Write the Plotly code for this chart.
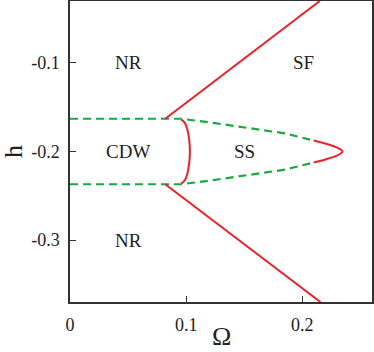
import plotly.graph_objects as go

# phase boundaries, Omega vs h
cdw_upper_omega = [0.0, 0.0958, 0.125, 0.155, 0.185, 0.2098]
cdw_upper_h = [-0.163, -0.163, -0.168, -0.1735, -0.1795, -0.1876]
cdw_lower_omega = [0.0, 0.0958, 0.125, 0.155, 0.185, 0.2098]
cdw_lower_h = [-0.237, -0.237, -0.232, -0.2265, -0.2205, -0.2124]

sf_upper_omega = [0.082, 0.215]
sf_upper_h = [-0.163, -0.03]
sf_lower_omega = [0.082, 0.2156]
sf_lower_h = [-0.237, -0.37]

cdw_ss_omega = [0.0958, 0.0986, 0.1009, 0.1027, 0.1032, 0.1027, 0.1009, 0.0986, 0.0958]
cdw_ss_h = [-0.1639, -0.167, -0.1744, -0.1876, -0.2, -0.2124, -0.2256, -0.233, -0.2361]

ss_tip_omega = [0.2098, 0.2205, 0.2291, 0.2334, 0.2347, 0.2334, 0.2291, 0.2205, 0.2098]
ss_tip_h = [-0.1876, -0.1913, -0.1951, -0.1981, -0.2, -0.2019, -0.2049, -0.2087, -0.2124]

labels = ["NR", "SF", "CDW", "SS", "NR"]
label_omega = [0.0505, 0.2007, 0.050, 0.150, 0.0505]
label_h = [-0.1, -0.1, -0.2, -0.2, -0.3]

RED = "rgb(236,32,40)"
GREEN = "rgb(22,170,64)"
FONT = "Liberation Serif"
INK = "#222"

fig = go.Figure()

for x, y in [(cdw_upper_omega, cdw_upper_h), (cdw_lower_omega, cdw_lower_h)]:
    fig.add_scatter(x=x, y=y, mode="lines",
                    line=dict(color=GREEN, width=2.2, dash="8px,5px"))

for x, y in [(sf_upper_omega, sf_upper_h), (sf_lower_omega, sf_lower_h),
             (cdw_ss_omega, cdw_ss_h), (ss_tip_omega, ss_tip_h)]:
    fig.add_scatter(x=x, y=y, mode="lines", line=dict(color=RED, width=2, shape="spline"))

for t, x, y in zip(labels, label_omega, label_h):
    fig.add_annotation(x=x, y=y, text=t, showarrow=False,
                       font=dict(family=FONT, size=19, color=INK))

# axis titles placed by hand so they sit where the reference has them
fig.add_annotation(x=0.502, y=-0.115, xref="paper", yref="paper", text="Ω",
                   showarrow=False, yanchor="middle",
                   font=dict(family=FONT, size=26, color=INK))
fig.add_annotation(x=-0.19, y=0.5, xref="paper", yref="paper", text="h",
                   showarrow=False, textangle=-90, xanchor="center", height=22,
                   font=dict(family=FONT, size=26, color=INK))

axis = dict(showline=True, linecolor="#333", linewidth=1.5, mirror=True,
            ticks="inside", ticklen=6, tickcolor="#333", showgrid=False,
            zeroline=False, automargin=False,
            tickfont=dict(family=FONT, size=18, color=INK))

fig.update_layout(
    width=374, height=352,
    margin=dict(l=70, r=2, t=1, b=50),
    plot_bgcolor="white", paper_bgcolor="white",
    showlegend=False,
    xaxis=dict(axis, range=[0, 0.26], tickvals=[0, 0.1, 0.2],
               ticktext=["0", "0.1", "0.2"], ticklabelstandoff=6),
    yaxis=dict(axis, range=[-0.37, -0.03], tickvals=[-0.1, -0.2, -0.3],
               ticktext=["-0.1", "-0.2", "-0.3"], ticklabelstandoff=5),
)

# drop the browser's default body margin so the figure sits at the page corner
fig.write_html("out.html", config={"displayModeBar": False},
               post_script="document.body.style.margin='0px';")
